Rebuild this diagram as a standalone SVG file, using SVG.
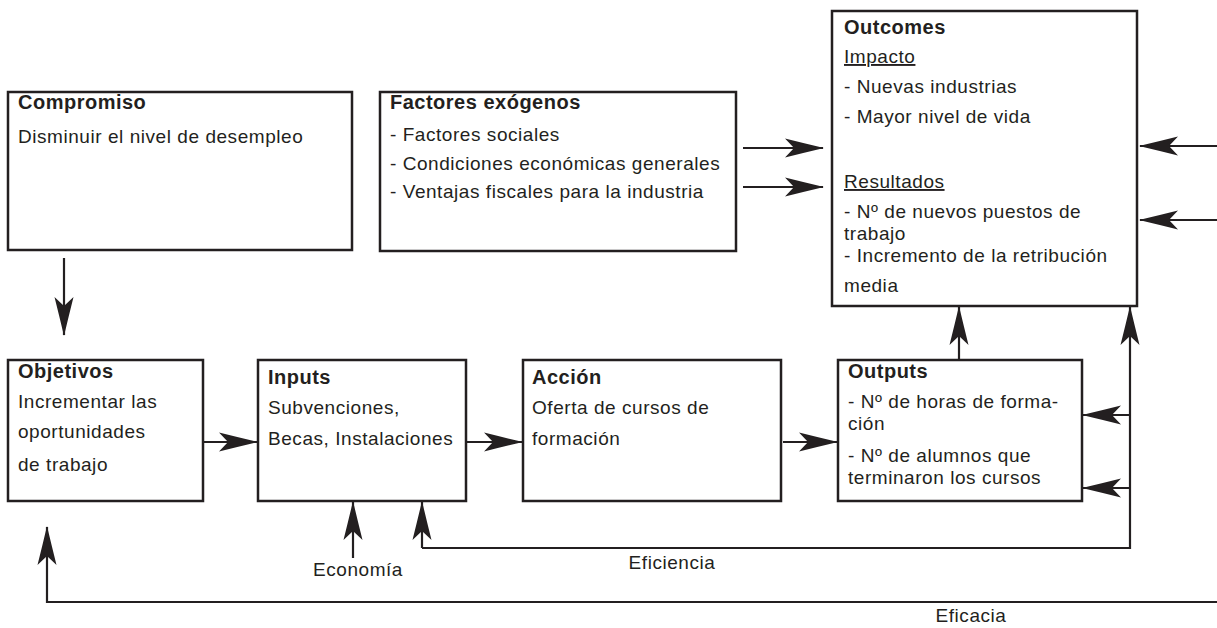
<svg xmlns="http://www.w3.org/2000/svg" width="1217" height="628" viewBox="0 0 1217 628">
<style>
.box{fill:#fff;stroke:#231f20;stroke-width:2.5}
.t{font-family:"Liberation Sans",Arial,sans-serif;font-size:19px;fill:#231f20;letter-spacing:0.55px}
.b{font-weight:bold;font-size:20px;letter-spacing:0.5px}
.u{text-decoration:underline}
.c{fill:none;stroke:#231f20;stroke-width:2.2}
</style>
<defs>
<marker id="ah" viewBox="-40 -11 42 22" refX="0" refY="0" markerWidth="42" markerHeight="22" markerUnits="userSpaceOnUse" orient="auto">
<path d="M1,0 Q-18,-4.5 -38,-9.5 L-29,0 L-38,9.5 Q-18,4.5 1,0 Z" fill="#231f20"/>
</marker>
</defs>
<rect width="1217" height="628" fill="#fff"/>
<g id="connectors">
<line class="c" x1="64" y1="258" x2="64" y2="335" marker-end="url(#ah)"/>
<line class="c" x1="743" y1="148" x2="823" y2="148" marker-end="url(#ah)"/>
<line class="c" x1="743" y1="187" x2="823" y2="187" marker-end="url(#ah)"/>
<line class="c" x1="1217" y1="146" x2="1140" y2="146" marker-end="url(#ah)"/>
<line class="c" x1="1217" y1="220" x2="1140" y2="220" marker-end="url(#ah)"/>
<line class="c" x1="959" y1="184" x2="959" y2="130" marker-end="url(#ah)"/>
<line class="c" x1="203" y1="442" x2="257" y2="442" marker-end="url(#ah)"/>
<line class="c" x1="467" y1="442" x2="522" y2="442" marker-end="url(#ah)"/>
<line class="c" x1="783" y1="442" x2="837" y2="442" marker-end="url(#ah)"/>
<line class="c" x1="959" y1="360" x2="959" y2="307" marker-end="url(#ah)"/>
<polyline class="c" points="422,548 1130,548 1130,307" marker-end="url(#ah)"/>
<line class="c" x1="422" y1="548" x2="422" y2="502" marker-end="url(#ah)"/>
<line class="c" x1="1130" y1="415" x2="1083" y2="415" marker-end="url(#ah)"/>
<line class="c" x1="1130" y1="488" x2="1083" y2="488" marker-end="url(#ah)"/>
<line class="c" x1="353" y1="558" x2="353" y2="502" marker-end="url(#ah)"/>
<polyline class="c" points="1217,602 47,602 47,527" marker-end="url(#ah)"/>
<text class="t" x="358" y="576" text-anchor="middle">Economía</text>
<text class="t" x="672" y="569" text-anchor="middle">Eficiencia</text>
<text class="t" x="971" y="622" text-anchor="middle">Eficacia</text>
</g>
<g id="compromiso">
<rect class="box" x="8" y="92" width="344" height="158"/>
<text class="t b" x="18" y="109">Compromiso</text>
<text class="t" x="18" y="143">Disminuir el nivel de desempleo</text>
</g>
<g id="factores">
<rect class="box" x="380" y="92" width="356" height="159"/>
<text class="t b" x="390" y="109">Factores exógenos</text>
<text class="t" x="390" y="141">- Factores sociales</text>
<text class="t" x="390" y="170">- Condiciones económicas generales</text>
<text class="t" x="390" y="198">- Ventajas fiscales para la industria</text>
</g>
<g id="outcomes">
<rect class="box" x="832" y="11" width="305" height="295"/>
<text class="t b" x="844" y="34">Outcomes</text>
<text class="t u" x="844" y="63">Impacto</text>
<text class="t" x="844" y="93">- Nuevas industrias</text>
<text class="t" x="844" y="123">- Mayor nivel de vida</text>
<text class="t u" x="844" y="188">Resultados</text>
<text class="t" x="844" y="218">- Nº de nuevos puestos de</text>
<text class="t" x="844" y="240">trabajo</text>
<text class="t" x="844" y="262">- Incremento de la retribución</text>
<text class="t" x="844" y="292">media</text>
</g>
<g id="objetivos">
<rect class="box" x="8" y="360" width="195" height="141"/>
<text class="t b" x="18" y="378">Objetivos</text>
<text class="t" x="18" y="408">Incrementar las</text>
<text class="t" x="18" y="438">oportunidades</text>
<text class="t" x="18" y="471">de trabajo</text>
</g>
<g id="inputs">
<rect class="box" x="258" y="360" width="208" height="141"/>
<text class="t b" x="268" y="384">Inputs</text>
<text class="t" x="268" y="414">Subvenciones,</text>
<text class="t" x="268" y="445">Becas, Instalaciones</text>
</g>
<g id="accion">
<rect class="box" x="523" y="360" width="258" height="141"/>
<text class="t b" x="532" y="384">Acción</text>
<text class="t" x="532" y="414">Oferta de cursos de</text>
<text class="t" x="532" y="445">formación</text>
</g>
<g id="outputs">
<rect class="box" x="838" y="360" width="244" height="141"/>
<text class="t b" x="848" y="378">Outputs</text>
<text class="t" x="848" y="408">- Nº de horas de forma-</text>
<text class="t" x="848" y="430">ción</text>
<text class="t" x="848" y="462">- Nº de alumnos que</text>
<text class="t" x="848" y="484">terminaron los cursos</text>
</g>
</svg>
